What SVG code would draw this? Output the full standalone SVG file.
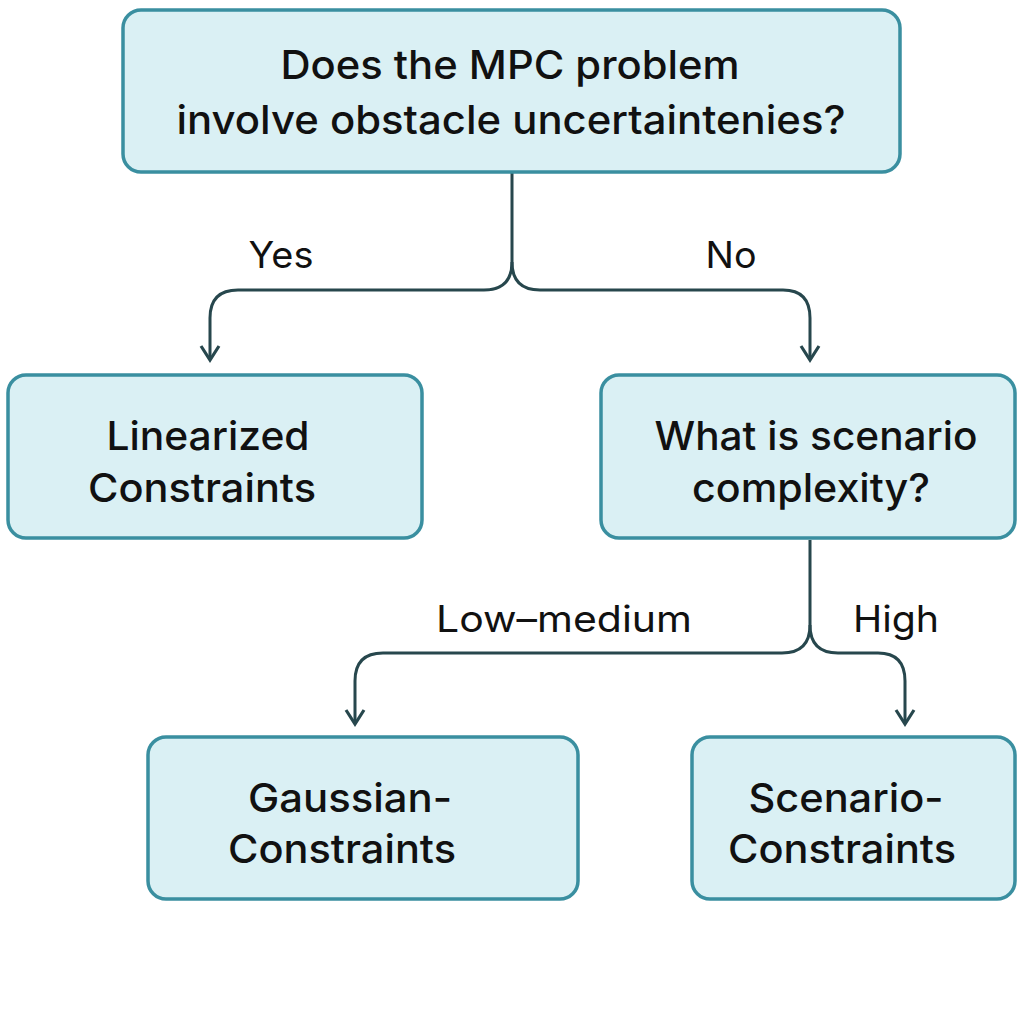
<svg xmlns="http://www.w3.org/2000/svg" width="1024" height="1024" viewBox="0 0 1024 1024">
<defs>
<style>
.box{fill:#daf0f4;stroke:#3a8fa0;stroke-width:3.5}
.t{font-family:Inter,"Noto Sans","Liberation Sans",sans-serif;font-size:40px;fill:#111;text-anchor:middle;font-weight:500}
.l{font-family:Inter,"Noto Sans","Liberation Sans",sans-serif;font-size:37px;fill:#111;text-anchor:middle}
.c{fill:none;stroke:#27474d;stroke-width:3}
</style>
<marker id="ah" viewBox="0 0 24 24" refX="21" refY="12" markerWidth="24" markerHeight="24" markerUnits="userSpaceOnUse" orient="auto">
<path d="M7,3 L21,12 L7,21" fill="none" stroke="#27474d" stroke-width="3.2" stroke-linejoin="miter"/>
</marker>
</defs>
<rect width="1024" height="1024" fill="#fff"/>
<g id="connectors">
<path class="c" d="M512,172 V262 Q512,290 484,290 H238 Q210,290 210,318 V360" marker-end="url(#ah)"/>
<path class="c" d="M512,262 Q512,290 540,290 H783 Q810,290 810,318 V360" marker-end="url(#ah)"/>
<path class="c" d="M810,540 V625 Q810,653 782,653 H383 Q355,653 355,681 V724" marker-end="url(#ah)"/>
<path class="c" d="M810,625 Q810,653 838,653 H878 Q905,653 905,681 V724" marker-end="url(#ah)"/>
<text class="l" x="281" y="268" textLength="65" lengthAdjust="spacingAndGlyphs">Yes</text>
<text class="l" x="731" y="268" textLength="51" lengthAdjust="spacingAndGlyphs">No</text>
<text class="l" x="564" y="632" textLength="256" lengthAdjust="spacingAndGlyphs">Low–medium</text>
<text class="l" x="896" y="632" textLength="86" lengthAdjust="spacingAndGlyphs">High</text>
</g>
<g id="n1">
<rect class="box" x="123" y="10" width="777" height="162" rx="18"/>
<text class="t" x="510" y="79" textLength="459" lengthAdjust="spacingAndGlyphs">Does the MPC problem</text>
<text class="t" x="511" y="134" textLength="669" lengthAdjust="spacingAndGlyphs">involve obstacle uncertaintenies?</text>
</g>
<g id="n2">
<rect class="box" x="8" y="375" width="414" height="163" rx="18"/>
<text class="t" x="208" y="450" textLength="203" lengthAdjust="spacingAndGlyphs">Linearized</text>
<text class="t" x="202" y="502" textLength="228" lengthAdjust="spacingAndGlyphs">Constraints</text>
</g>
<g id="n3">
<rect class="box" x="601" y="375" width="414" height="163" rx="18"/>
<text class="t" x="816" y="450" textLength="323" lengthAdjust="spacingAndGlyphs">What is scenario</text>
<text class="t" x="811" y="502" textLength="238" lengthAdjust="spacingAndGlyphs">complexity?</text>
</g>
<g id="n4">
<rect class="box" x="148" y="737" width="430" height="162" rx="18"/>
<text class="t" x="350" y="812" textLength="204" lengthAdjust="spacingAndGlyphs">Gaussian-</text>
<text class="t" x="342" y="863" textLength="228" lengthAdjust="spacingAndGlyphs">Constraints</text>
</g>
<g id="n5">
<rect class="box" x="692" y="737" width="323" height="162" rx="18"/>
<text class="t" x="846" y="812" textLength="195" lengthAdjust="spacingAndGlyphs">Scenario-</text>
<text class="t" x="842" y="863" textLength="228" lengthAdjust="spacingAndGlyphs">Constraints</text>
</g>
</svg>
